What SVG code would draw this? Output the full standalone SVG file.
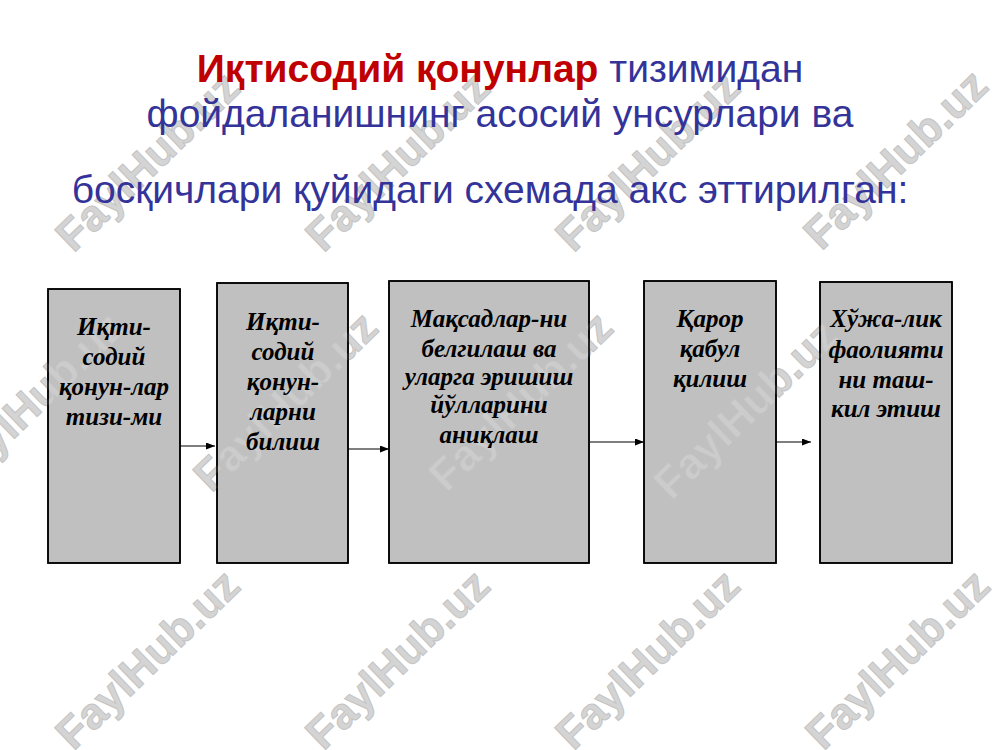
<svg xmlns="http://www.w3.org/2000/svg" width="1000" height="750" viewBox="0 0 1000 750">
<defs>
<style>
.title{font-family:"Liberation Sans",Arial,sans-serif;font-size:39px;text-anchor:middle}
.red{fill:#c00000;font-weight:bold}
.blue{fill:#333399}
.box{fill:#c0c0c0;stroke:#000;stroke-width:1.5}
.lbl{font-family:"Liberation Serif","Times New Roman",serif;font-size:25px;font-weight:bold;font-style:italic;fill:#000;text-anchor:middle}
.conn{stroke:#000;stroke-width:1.2;fill:none}
.wmt{font-family:"Liberation Sans",Arial,sans-serif;font-size:44px;font-weight:bold;text-anchor:middle}
</style>
<marker id="ah" viewBox="0 0 10 10" refX="10" refY="5" markerWidth="9" markerHeight="7" markerUnits="userSpaceOnUse" orient="auto" preserveAspectRatio="none">
<path d="M0,0 L10,5 L0,10 z" fill="#000"/>
</marker>
<g id="wmtexts" class="wmt">
<text transform="translate(158,172) rotate(-44)">FaylHub.uz</text>
<text transform="translate(408,172) rotate(-44)">FaylHub.uz</text>
<text transform="translate(658,172) rotate(-44)">FaylHub.uz</text>
<text transform="translate(906,170) rotate(-44)">FaylHub.uz</text>
<text transform="translate(42,412) rotate(-44)">FaylHub.uz</text>
<text transform="translate(296,412) rotate(-44)">FaylHub.uz</text>
<text transform="translate(531,412) rotate(-44)">FaylHub.uz</text>
<text transform="translate(756,420) rotate(-44)">FaylHub.uz</text>
<text transform="translate(158,670) rotate(-44)">FaylHub.uz</text>
<text transform="translate(408,670) rotate(-44)">FaylHub.uz</text>
<text transform="translate(658,670) rotate(-44)">FaylHub.uz</text>
<text transform="translate(908,670) rotate(-44)">FaylHub.uz</text>
</g>
<mask id="wmmask" maskUnits="userSpaceOnUse" x="0" y="0" width="1000" height="750">
<rect width="1000" height="750" fill="#fff"/>
<use href="#wmtexts" fill="#6a6a6a"/>
</mask>
</defs>
<rect width="1000" height="750" fill="#fff"/>
<g id="watermarks">
<use href="#wmtexts" fill="#d4d4d4" stroke="#c4c4c4" stroke-width="1"/>
</g>
<g id="title">
<text class="title" x="500" y="82"><tspan class="red">Иқтисодий қонунлар</tspan><tspan class="blue"> тизимидан</tspan></text>
<text class="title blue" x="500" y="127">фойдаланишнинг асосий унсурлари ва</text>
<text class="title blue" x="490" y="203">босқичлари қуйидаги схемада акс эттирилган:</text>
</g>
<g id="n1">
<rect class="box" x="48" y="289" width="132" height="274" mask="url(#wmmask)"/>
<rect x="48" y="289" width="132" height="274" fill="none" stroke="#000" stroke-width="1.5"/>
<text class="lbl"><tspan x="114" y="335">Иқти-</tspan><tspan x="114" y="365">содий</tspan><tspan x="114" y="395">қонун-лар</tspan><tspan x="114" y="425">тизи-ми</tspan></text>
</g>
<g id="n2">
<rect class="box" x="217" y="283" width="131" height="280" mask="url(#wmmask)"/>
<rect x="217" y="283" width="131" height="280" fill="none" stroke="#000" stroke-width="1.5"/>
<text class="lbl"><tspan x="283" y="330">Иқти-</tspan><tspan x="283" y="360">содий</tspan><tspan x="283" y="390">қонун-</tspan><tspan x="283" y="420">ларни</tspan><tspan x="283" y="450">билиш</tspan></text>
</g>
<g id="n3">
<rect class="box" x="389" y="281" width="200" height="282" mask="url(#wmmask)"/>
<rect x="389" y="281" width="200" height="282" fill="none" stroke="#000" stroke-width="1.5"/>
<text class="lbl"><tspan x="489" y="327">Мақсадлар-ни</tspan><tspan x="489" y="357">белгилаш ва</tspan><tspan x="489" y="385">уларга эришиш</tspan><tspan x="489" y="413">йўлларини</tspan><tspan x="489" y="443">аниқлаш</tspan></text>
</g>
<g id="n4">
<rect class="box" x="644" y="281" width="132" height="282" mask="url(#wmmask)"/>
<rect x="644" y="281" width="132" height="282" fill="none" stroke="#000" stroke-width="1.5"/>
<text class="lbl"><tspan x="710" y="327">Қарор</tspan><tspan x="710" y="357">қабул</tspan><tspan x="710" y="387">қилиш</tspan></text>
</g>
<g id="n5">
<rect class="box" x="820" y="282" width="132" height="281" mask="url(#wmmask)"/>
<rect x="820" y="282" width="132" height="281" fill="none" stroke="#000" stroke-width="1.5"/>
<text class="lbl"><tspan x="886" y="327">Хўжа-лик</tspan><tspan x="886" y="358">фаолияти</tspan><tspan x="886" y="388">ни таш-</tspan><tspan x="886" y="417">кил этиш</tspan></text>
</g>
<g id="connectors">
<line class="conn" x1="180" y1="446" x2="215" y2="446" marker-end="url(#ah)"/>
<line class="conn" x1="348" y1="449" x2="389" y2="449" marker-end="url(#ah)"/>
<line class="conn" x1="590" y1="442" x2="644" y2="442" marker-end="url(#ah)"/>
<line class="conn" x1="776" y1="442" x2="811" y2="442" marker-end="url(#ah)"/>
</g>
</svg>
